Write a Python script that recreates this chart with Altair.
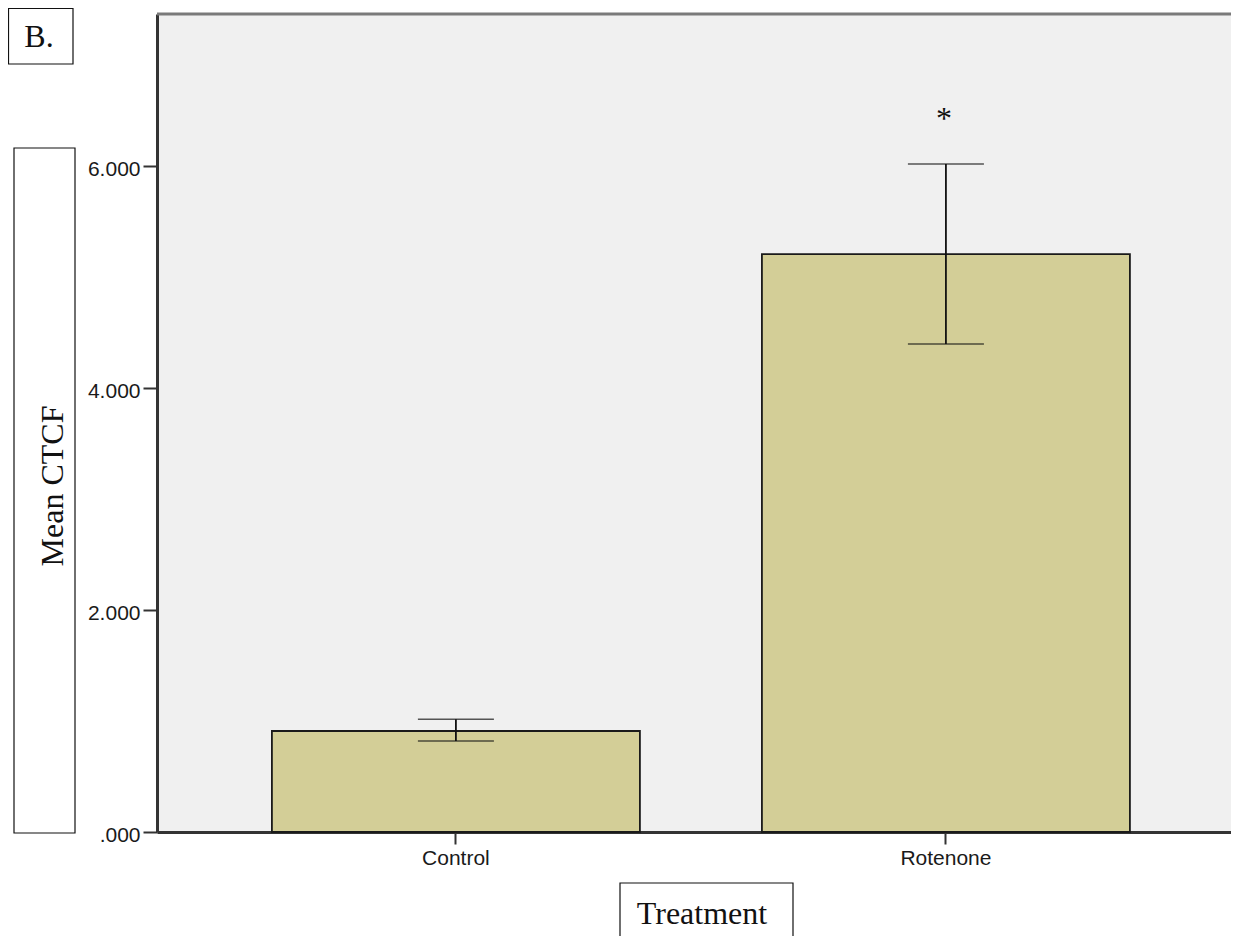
import altair as alt
import pandas as pd

# Data (Mean CTCF, in thousands shown as "x.000")
treatments = ["Control", "Rotenone"]
means = [0.910, 5.207]
err_low = [0.820, 4.396]
err_high = [1.015, 6.018]
sig_marks = ["", "*"]
y_ticks = [0, 2, 4, 6]

df = pd.DataFrame({
    "Treatment": treatments,
    "Mean": means,
    "Low": err_low,
    "High": err_high,
    "Sig": sig_marks,
})

W = 1074
H = 818
YMAX = 7.37
BAR_FILL = "#D3CE97"
BG = "#F0F0F0"

xscale = alt.Scale(paddingInner=0.249, paddingOuter=0.2204, align=0.532)
yscale = alt.Scale(domain=[0, YMAX], nice=False, zero=True)

x_enc = alt.X(
    "Treatment:N",
    scale=xscale,
    sort=treatments,
    axis=alt.Axis(
        title=None,
        labelAngle=0,
        labelFont="Liberation Sans",
        labelFontSize=21,
        labelColor="#1a1a1a",
        labelPadding=3,
        tickSize=12,
        tickColor="#333333",
        tickWidth=2,
        domainColor="#333333",
        domainWidth=3,
        grid=False,
    ),
)

y_axis = alt.Axis(
    title=None,
    values=y_ticks,
    labelExpr="datum.value == 0 ? '.000' : format(datum.value, '.3f')",
    labelFont="Liberation Sans",
    labelFontSize=21,
    labelColor="#1a1a1a",
    labelPadding=3,
    labelOffset=3,
    tickSize=14,
    tickColor="#333333",
    tickWidth=2,
    domainColor="#333333",
    domainWidth=3,
    grid=False,
)

base = alt.Chart(df)

bars = base.mark_bar(fill=BAR_FILL, stroke="#1a1a1a", strokeWidth=1.8).encode(
    x=x_enc,
    y=alt.Y("Mean:Q", scale=yscale, axis=y_axis),
)

err_rule = base.mark_rule(color="#111111", strokeWidth=1.8).encode(
    x=alt.X("Treatment:N", sort=treatments),
    y=alt.Y("Low:Q"),
    y2="High:Q",
)

cap_low = base.mark_tick(color="#111111", size=76, thickness=1.5).encode(
    x=alt.X("Treatment:N", sort=treatments),
    y=alt.Y("Low:Q"),
)
cap_high = base.mark_tick(color="#111111", size=76, thickness=1.5).encode(
    x=alt.X("Treatment:N", sort=treatments),
    y=alt.Y("High:Q"),
)

stars = base.mark_text(
    font="Liberation Serif", fontSize=32, baseline="alphabetic", dy=-35, dx=-2, color="#111111"
).encode(
    x=alt.X("Treatment:N", sort=treatments),
    y=alt.Y("High:Q"),
    text="Sig:N",
)

one = alt.Data(values=[{"k": 1}])

top_border = alt.Chart(one).mark_rule(color="#7a7a7a", strokeWidth=3).encode(
    x=alt.value(0), x2=alt.value(W), y=alt.value(0)
)

# Annotation boxes (framed labels)
box_b = alt.Chart(one).mark_rect(fillOpacity=0, stroke="#111111", strokeWidth=1.2).encode(
    x=alt.value(-148.5), x2=alt.value(-84), y=alt.value(-5.5), y2=alt.value(50)
)
box_y = alt.Chart(one).mark_rect(fillOpacity=0, stroke="#111111", strokeWidth=1.2).encode(
    x=alt.value(-143), x2=alt.value(-82), y=alt.value(134), y2=alt.value(819)
)
box_x = alt.Chart(one).mark_rect(fillOpacity=0, stroke="#111111", strokeWidth=1.2).encode(
    x=alt.value(463), x2=alt.value(636), y=alt.value(869), y2=alt.value(960)
)

txt_b = alt.Chart(one).mark_text(
    font="Liberation Serif", fontSize=32, align="center", baseline="alphabetic", color="#111111"
).encode(x=alt.value(-118), y=alt.value(33), text=alt.value("B."))

txt_y = alt.Chart(one).mark_text(
    font="Liberation Serif", fontSize=32, align="center", baseline="alphabetic",
    angle=270, color="#111111"
).encode(x=alt.value(-94), y=alt.value(472), text=alt.value("Mean CTCF"))

txt_x = alt.Chart(one).mark_text(
    font="Liberation Serif", fontSize=32, align="center", baseline="alphabetic", color="#111111"
).encode(x=alt.value(545), y=alt.value(910), text=alt.value("Treatment"))

chart = alt.layer(
    bars, err_rule, cap_low, cap_high, stars, top_border,
    box_b, box_y, box_x, txt_b, txt_y, txt_x,
).properties(
    width=W,
    height=H,
    autosize=alt.AutoSizeParams(type="none"),
    padding={"left": 149, "top": 6, "right": 0, "bottom": 104},
    background="white",
).configure_view(
    fill=BG,
    strokeOpacity=0,
)

chart.save("out.html", embed_options={"renderer": "svg", "actions": False})
